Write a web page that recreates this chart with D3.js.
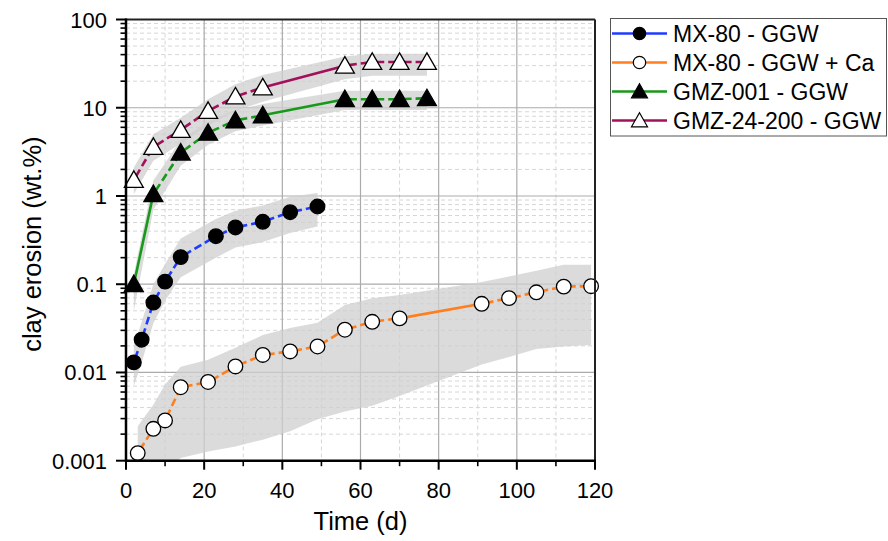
<!DOCTYPE html>
<html><head><meta charset="utf-8">
<script src="https://cdn.jsdelivr.net/npm/d3@7"></script>
<style>body{margin:0;background:#fff}svg{display:block}</style>
</head><body><svg id="c" width="888" height="541"></svg>
<script>
// ---------- data ----------
const seriesNames = ["MX-80 - GGW", "MX-80 - GGW + Ca", "GMZ-001 - GGW", "GMZ-24-200 - GGW"];
const seriesColors = ["#1e3cff", "#ff7f1e", "#18991a", "#a3105c"];

const mx80Time  = [2, 4, 7, 10, 14, 23, 28, 35, 42, 49];
const mx80Value = [0.013, 0.0235, 0.062, 0.107, 0.203, 0.35, 0.44, 0.51, 0.655, 0.76];
const mx80Low   = [0.007, 0.013, 0.036, 0.065, 0.12, 0.2, 0.26, 0.3, 0.38, 0.45];
const mx80High  = [0.02, 0.037, 0.1, 0.17, 0.33, 0.55, 0.68, 0.78, 0.98, 1.08];

const mx80CaTime  = [3, 7, 10, 14, 21, 28, 35, 42, 49, 56, 63, 70, 91, 98, 105, 112, 119];
const mx80CaValue = [0.00122, 0.0023, 0.00286, 0.0068, 0.0078, 0.0117, 0.0158, 0.0173, 0.0197, 0.0305, 0.0375, 0.041, 0.06, 0.0695, 0.081, 0.094, 0.095];
const mx80CaLow   = [0.0004, 0.0006, 0.0008, 0.00107, 0.00127, 0.00145, 0.00173, 0.00215, 0.00295, 0.0036, 0.0042, 0.0054, 0.0123, 0.015, 0.0184, 0.0197, 0.0205];
const mx80CaHigh  = [0.00245, 0.0043, 0.0073, 0.0116, 0.0139, 0.019, 0.0265, 0.032, 0.0366, 0.058, 0.0695, 0.0755, 0.106, 0.122, 0.142, 0.166, 0.166];

const gmz001Time  = [2, 7, 14, 21, 28, 35, 56, 63, 70, 77];
const gmz001Value = [0.1, 1.05, 3.1, 5.2, 7.2, 8.2, 12.5, 12.5, 12.5, 12.8];
const gmz001Low   = [0.05, 0.7, 2.2, 3.8, 5.4, 6.3, 9.4, 9.4, 9.4, 9.4];
const gmz001High  = [0.13, 1.5, 4.3, 7.0, 9.5, 11, 15.6, 15.6, 15.6, 15.6];

const gmz24Time  = [2, 7, 14, 21, 28, 35, 56, 63, 70, 77];
const gmz24Value = [1.52, 3.6, 5.6, 9.2, 13.4, 17, 30, 33, 33, 33];
const gmz24Low   = [1.05, 2.5, 3.9, 6.3, 9.2, 11.7, 21, 23, 23, 23];
const gmz24High  = [2.1, 5.0, 7.7, 12.5, 18.5, 23.5, 38, 41, 41, 41];

const xTicks = [0, 20, 40, 60, 80, 100, 120];
const xMinorTicks = [10, 30, 50, 70, 90, 110];
const yTicks = [0.001, 0.01, 0.1, 1, 10, 100];
const yTickLabels = ["0.001", "0.01", "0.1", "1", "10", "100"];
const xTitle = "Time (d)";
const yTitle = "clay erosion (wt.%)";

// ---------- build ----------
const series = [
  {name: seriesNames[0], color: seriesColors[0], marker: "circle", fill: "#000", t: mx80Time, v: mx80Value, lo: mx80Low, hi: mx80High},
  {name: seriesNames[1], color: seriesColors[1], marker: "circle", fill: "#fff", t: mx80CaTime, v: mx80CaValue, lo: mx80CaLow, hi: mx80CaHigh},
  {name: seriesNames[2], color: seriesColors[2], marker: "triangle", fill: "#000", t: gmz001Time, v: gmz001Value, lo: gmz001Low, hi: gmz001High},
  {name: seriesNames[3], color: seriesColors[3], marker: "triangle", fill: "#fff", t: gmz24Time, v: gmz24Value, lo: gmz24Low, hi: gmz24High}
];

const L = 126, R = 595, T = 19.5, B = 460.7;
const x = d3.scaleLinear().domain([0, 120]).range([L, R]);
const y = d3.scaleLog().domain([0.001, 100]).range([B, T]);
const svg = d3.select("#c");
const font = "Arial, 'Liberation Sans', sans-serif";

svg.append("defs").append("clipPath").attr("id", "clip")
  .append("rect").attr("x", L).attr("y", T).attr("width", R - L).attr("height", B - T);

// minor grid
const yMinor = [];
for (let e = -3; e < 2; e++) for (let k = 2; k <= 9; k++) yMinor.push(k * Math.pow(10, e));
const grid = svg.append("g");
grid.selectAll(".ymg").data(yMinor).join("line")
  .attr("x1", L).attr("x2", R).attr("y1", d => y(d)).attr("y2", d => y(d))
  .attr("stroke", "#d6d6d6").attr("stroke-width", 1).attr("stroke-dasharray", "4,3");
grid.selectAll(".xmg").data(xMinorTicks).join("line")
  .attr("x1", d => x(d)).attr("x2", d => x(d)).attr("y1", T).attr("y2", B)
  .attr("stroke", "#d6d6d6").attr("stroke-width", 1).attr("stroke-dasharray", "4,3");
grid.selectAll(".yg").data(yTicks).join("line")
  .attr("x1", L).attr("x2", R).attr("y1", d => y(d)).attr("y2", d => y(d))
  .attr("stroke", "#ababab").attr("stroke-width", 1.2);
grid.selectAll(".xg").data(xTicks).join("line")
  .attr("x1", d => x(d)).attr("x2", d => x(d)).attr("y1", T).attr("y2", B)
  .attr("stroke", "#ababab").attr("stroke-width", 1.2);

// bands
const bandG = svg.append("g").attr("clip-path", "url(#clip)");
series.forEach(s => {
  const pts = s.t.map((t, i) => ({t, lo: s.lo[i], hi: s.hi[i]}));
  const area = d3.area().x(d => x(d.t)).y0(d => y(d.lo)).y1(d => y(d.hi));
  bandG.append("path").attr("d", area(pts)).attr("fill", "#cfcfcf").attr("fill-opacity", 0.75);
});

// lines
const lineG = svg.append("g");
series.forEach(s => {
  for (let i = 0; i < s.t.length - 1; i++) {
    const x1 = x(s.t[i]), y1 = y(s.v[i]), x2 = x(s.t[i + 1]), y2 = y(s.v[i + 1]);
    const len = Math.hypot(x2 - x1, y2 - y1);
    lineG.append("path").attr("d", d3.line()([[x1, y1], [x2, y2]]))
      .attr("stroke", s.color).attr("stroke-width", 2.6).attr("fill", "none")
      .attr("stroke-dasharray", len > 60 ? null : "8,4")
      .attr("stroke-dashoffset", len > 60 ? null : -4);
  }
});

// markers
const triPath = (cx, cy, w, h) => `M${cx},${cy - h * 0.55}L${cx + w / 2},${cy + h * 0.45}L${cx - w / 2},${cy + h * 0.45}Z`;
function drawMarker(g, s, cx, cy, scale) {
  if (s.marker === "circle") {
    g.append("circle").attr("cx", cx).attr("cy", cy).attr("r", 7.3 * scale)
      .attr("fill", s.fill).attr("stroke", "#000").attr("stroke-width", 1.3);
  } else {
    g.append("path").attr("d", triPath(cx, cy, 19 * scale, 16.5 * scale))
      .attr("fill", s.fill).attr("stroke", "#000").attr("stroke-width", 1.3).attr("stroke-linejoin", "miter");
  }
}
const markG = svg.append("g");
series.forEach(s => {
  s.t.forEach((t, i) => drawMarker(markG, s, x(t), y(s.v[i]), 1));
});

// frame (top/right)
svg.append("line").attr("x1", L).attr("x2", R).attr("y1", T).attr("y2", T).attr("stroke", "#222").attr("stroke-width", 2);
svg.append("line").attr("x1", R).attr("x2", R).attr("y1", T).attr("y2", B).attr("stroke", "#222").attr("stroke-width", 2);

// axes
const xAxis = svg.append("g").attr("transform", `translate(0,${B})`);
xAxis.append("line").attr("x1", L - 1).attr("x2", R + 1).attr("stroke", "#000").attr("stroke-width", 2.5);
xAxis.selectAll(".xt").data(xTicks).join("line")
  .attr("x1", d => x(d)).attr("x2", d => x(d)).attr("y1", 0).attr("y2", 9).attr("stroke", "#000").attr("stroke-width", 2);
xAxis.selectAll(".xmt").data(xMinorTicks).join("line")
  .attr("x1", d => x(d)).attr("x2", d => x(d)).attr("y1", 0).attr("y2", 5.5).attr("stroke", "#000").attr("stroke-width", 1.6);
xAxis.selectAll(".xl").data(xTicks).join("text")
  .attr("x", d => x(d)).attr("y", 37.5).attr("text-anchor", "middle")
  .attr("font-family", font).attr("font-size", 22).attr("fill", "#000").text(d => d);

const yAxis = svg.append("g").attr("transform", `translate(${L},0)`);
yAxis.append("line").attr("y1", T - 1).attr("y2", B + 1).attr("stroke", "#000").attr("stroke-width", 2.5);
yAxis.selectAll(".yt").data(yTicks).join("line")
  .attr("y1", d => y(d)).attr("y2", d => y(d)).attr("x1", 0).attr("x2", -10).attr("stroke", "#000").attr("stroke-width", 2);
yAxis.selectAll(".ymt").data(yMinor).join("line")
  .attr("y1", d => y(d)).attr("y2", d => y(d)).attr("x1", 0).attr("x2", -5.5).attr("stroke", "#000").attr("stroke-width", 1.6);
yAxis.selectAll(".yl").data(yTicks).join("text")
  .attr("x", -19).attr("y", d => y(d) + 8).attr("text-anchor", "end")
  .attr("font-family", font).attr("font-size", 22).attr("fill", "#000").text((d, i) => yTickLabels[i]);

// titles
svg.append("text").attr("x", (L + R) / 2).attr("y", 530).attr("text-anchor", "middle")
  .attr("font-family", font).attr("font-size", 25.5).attr("fill", "#000").text(xTitle);
svg.append("text").attr("transform", `translate(41,${(T + B) / 2 + 4}) rotate(-90)`).attr("text-anchor", "middle")
  .attr("font-family", font).attr("font-size", 25.5).attr("fill", "#000").text(yTitle);

// legend
const lg = svg.append("g");
lg.append("rect").attr("x", 610.5).attr("y", 18.5).attr("width", 276).attr("height", 117.5)
  .attr("fill", "#fff").attr("stroke", "#555").attr("stroke-width", 1);
series.forEach((s, i) => {
  const cy = 33.5 + i * 29;
  lg.append("line").attr("x1", 612).attr("x2", 667).attr("y1", cy).attr("y2", cy)
    .attr("stroke", s.color).attr("stroke-width", 2.6);
  const g = lg.append("g");
  if (s.marker === "circle") {
    g.append("circle").attr("cx", 639.5).attr("cy", cy).attr("r", 6.2).attr("fill", s.fill === "#fff" ? "#fff" : "#000").attr("stroke", "#000").attr("stroke-width", 1.2);
  } else {
    g.append("path").attr("d", triPath(639.5, cy, 16, 14)).attr("fill", s.fill).attr("stroke", "#000").attr("stroke-width", 1.2);
  }
  lg.append("text").attr("x", 673).attr("y", cy + 8.3).attr("font-family", font).attr("font-size", 23)
    .attr("fill", "#000").text(s.name);
});
</script></body></html>
